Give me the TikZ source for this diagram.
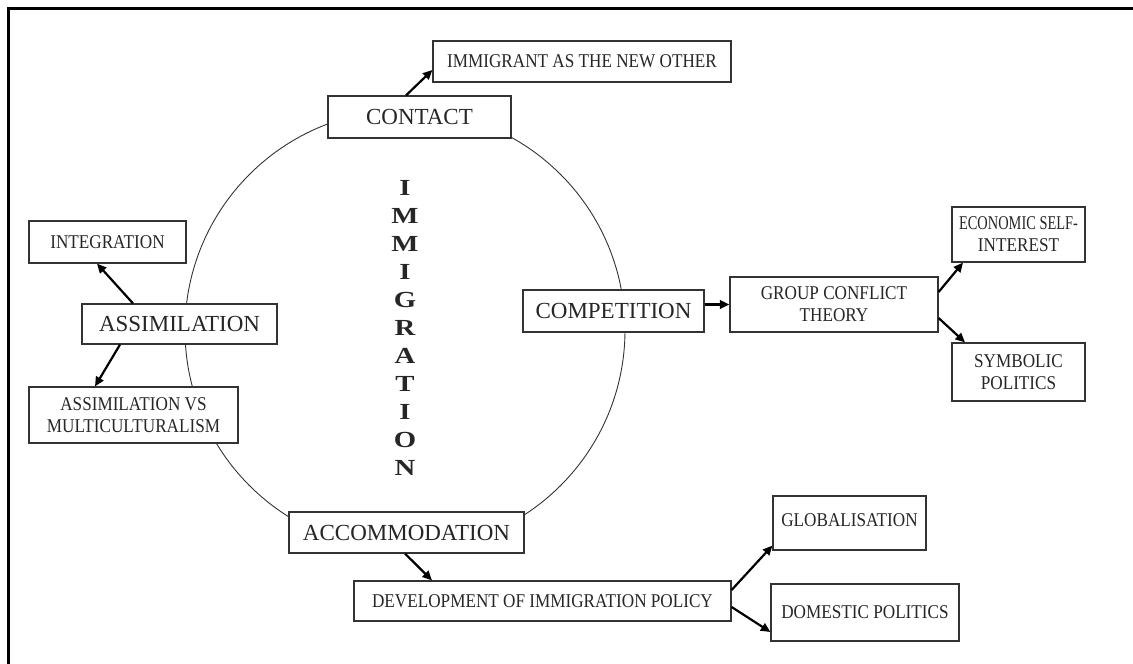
\documentclass[tikz,border=0pt]{standalone}
\usepackage{fontspec}
\setmainfont{Liberation Serif}
\newfontfamily\condserif[FakeStretch=0.88]{Liberation Serif}
\newfontfamily\widebold[FakeStretch=1.25]{Liberation Serif Bold}
\usetikzlibrary{arrows.meta}
\tikzset{
  box/.style={draw=black!80, line width=1.2pt, fill=white, inner sep=0pt, align=center, text=black!85},
  bigbox/.style={box, font=\fontsize{23}{27}\selectfont},
  smallbox/.style={box, font=\condserif\fontsize{19.5}{22}\selectfont},
  arr/.style={line width=2.2pt, -{Triangle[length=9.5pt,width=8.5pt]}, black},
  ring/.style={line width=0.9pt, black!80},
}
\begin{document}
\begin{tikzpicture}[x=1pt,y=-1pt]
\useasboundingbox (0,0) rectangle (1133,664);
\draw[line width=2.5pt] (8.5,664) -- (8.5,8.5) -- (1133,8.5);
\coordinate (c) at (405,330);
\draw[ring] (c) circle[radius=220pt];
\node[font=\widebold\fontsize{23}{28}\selectfont, align=center, text=black!85] (word) at (405,328)
  {I\\M\\M\\I\\G\\R\\A\\T\\I\\O\\N};
% main stages
\node[bigbox, minimum width=183pt, minimum height=42pt] (contact) at (419.5,117) {CONTACT};
\node[bigbox, minimum width=195pt, minimum height=40pt] (assim) at (179.5,324) {ASSIMILATION};
\node[bigbox, minimum width=181pt, minimum height=42pt] (comp) at (613.5,311) {COMPETITION};
\node[bigbox, minimum width=235pt, minimum height=41pt] (accom) at (406.5,532.5) {ACCOMMODATION};
% outcomes
\node[smallbox, minimum width=298pt, minimum height=41pt] (other) at (582,61.5) {IMMIGRANT AS THE NEW OTHER};
\node[smallbox, minimum width=157pt, minimum height=42pt] (integ) at (107.5,242) {INTEGRATION};
\node[smallbox, minimum width=209pt, minimum height=56pt] (avm) at (133.5,415) {ASSIMILATION VS\\MULTICULTURALISM};
\node[smallbox, minimum width=208pt, minimum height=55pt] (gct) at (834,304.5) {GROUP CONFLICT\\THEORY};
\node[smallbox, minimum width=133pt, minimum height=55pt] (esi) at (1018.5,234.5) {\scalebox{0.84}[1]{ECONOMIC SELF-}\\INTEREST};
\node[smallbox, minimum width=133pt, minimum height=58pt] (sp) at (1018.5,372) {SYMBOLIC\\POLITICS};
\node[smallbox, minimum width=377pt, minimum height=40pt] (dev) at (542.5,601) {DEVELOPMENT OF IMMIGRATION POLICY};
\node[smallbox, minimum width=153pt, minimum height=54pt] (glob) at (849.5,523) {\raisebox{6pt}{GLOBALISATION}};
\node[smallbox, minimum width=188pt, minimum height=57pt] (dom) at (865,612.5) {DOMESTIC POLITICS};
% arrows
\draw[arr] ([xshift=-13.5pt]contact.north) -- ([yshift=-8.5pt]other.west);
\draw[arr] ([xshift=-46.5pt]assim.north) -- ([xshift=-10.5pt]integ.south);
\draw[arr] ([xshift=-59.5pt]assim.south) -- ([xshift=-38.5pt]avm.north);
\draw[arr] ([xshift=-1.5pt]accom.south) -- ([xshift=-110.5pt]dev.north);
\draw[arr] (comp.east |- gct.west) -- (gct.west);
\draw[arr] ([yshift=12.5pt]gct.east) -- ([xshift=-55.5pt]esi.south);
\draw[arr] ([yshift=-13.5pt]gct.east) -- ([xshift=-53.5pt]sp.north);
\draw[arr] ([yshift=11pt]dev.east) -- ([yshift=5pt]glob.south west);
\draw[arr] ([yshift=-6pt]dev.east) -- ([yshift=-19.5pt]dom.west);
\end{tikzpicture}
\end{document}
